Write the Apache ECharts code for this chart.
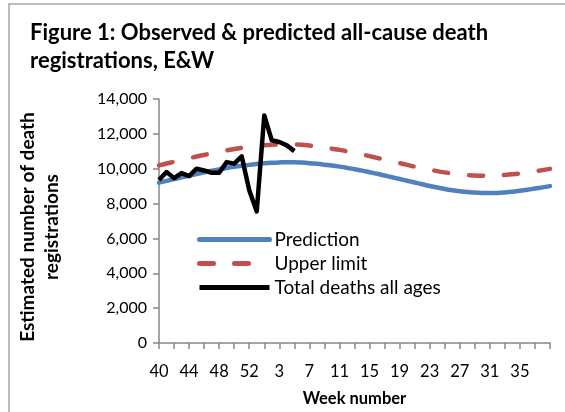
<!DOCTYPE html>
<html>
<head>
<meta charset="utf-8">
<script src="https://cdn.jsdelivr.net/npm/echarts@6/dist/echarts.min.js"></script>
<style>
html,body{margin:0;padding:0;background:#fff;}
#c{width:565px;height:412px;}
</style>
</head>
<body>
<div id="c"></div>
<script>
const weeks = ['40','41','42','43','44','45','46','47','48','49','50','51','52','53',
  '1','2','3','4','5','6','7','8','9','10','11','12','13','14','15','16','17','18','19','20',
  '21','22','23','24','25','26','27','28','29','30','31','32','33','34','35','36','37','38','39'];
const prediction = [9200,9300,9400,9500,9600,9700,9790,9880,9960,10040,10110,10170,10220,10270,
  10310,10340,10360,10370,10370,10350,10320,10280,10230,10180,10120,10050,9970,9890,9800,9710,
  9610,9510,9410,9310,9210,9110,9010,8920,8840,8770,8710,8660,8630,8610,8600,8610,8640,8680,
  8730,8790,8860,8930,9000];
const upperLimit = [10190,10300,10400,10500,10600,10700,10790,10880,10970,11050,11130,11200,11260,11310,
  11350,11380,11400,11400,11390,11370,11330,11280,11220,11150,11080,11000,10910,10820,10720,10620,
  10520,10420,10320,10220,10120,10030,9940,9860,9790,9730,9680,9640,9610,9600,9600,9610,9640,9680,
  9730,9790,9850,9920,9990];
const totalDeaths = [9350,9810,9460,9750,9580,10000,9900,9770,9770,10380,10290,10710,8760,7550,
  13060,11630,11530,11340,11010];
const yTicks = [0,2000,4000,6000,8000,10000,12000,14000];

const chart = echarts.init(document.getElementById('c'));
const axisGray = '#868686';
const font = 'Lato, "Open Sans", sans-serif';
chart.setOption({
  animation: false,
  backgroundColor: '#fff',
  title: {
    text: 'Figure 1: Observed & predicted all-cause death\nregistrations, E&W',
    left: 25, top: 14,
    textStyle: {fontFamily: font, fontSize: 22, fontWeight: 'bold', color: '#000', lineHeight: 28}
  },
  graphic: [
    {type: 'rect', shape: {x: 9, y: 4, width: 620, height: 500}, style: {fill: 'none', stroke: '#a6a6a6', lineWidth: 1.5}, silent: true},
    {type: 'text', x: 40, y: 227, rotation: Math.PI / 2,
     style: {text: 'Estimated number of death\nregistrations', align: 'center', verticalAlign: 'middle',
       font: 'bold 19px ' + font, fill: '#000', lineHeight: 24}}
  ],
  legend: {
    orient: 'vertical', left: 192, top: 225, itemWidth: 70, itemHeight: 14, itemGap: 5,
    itemStyle: {opacity: 0},
    lineStyle: {width: 5},
    textStyle: {fontFamily: font, fontSize: 19, color: '#000'},
    data: ['Prediction', 'Upper limit', 'Total deaths all ages']
  },
  grid: {left: 159, right: 15, top: 99, bottom: 69},
  xAxis: {
    type: 'category', data: weeks, boundaryGap: false,
    name: 'Week number', nameLocation: 'middle', nameGap: 47,
    nameTextStyle: {fontFamily: font, fontSize: 16.5, fontWeight: 'bold', color: '#000'},
    axisLine: {lineStyle: {color: axisGray, width: 1.5}},
    axisTick: {interval: 1, length: 6, lineStyle: {color: axisGray, width: 1.5}},
    axisLabel: {interval: (i) => i % 4 === 0 && i < weeks.length - 1, margin: 20, fontFamily: font, fontSize: 16.5, color: '#000'},
    splitLine: {show: false}
  },
  yAxis: {
    type: 'value', min: 0, max: 14000, interval: 2000,
    axisLine: {show: true, lineStyle: {color: axisGray, width: 1.5}},
    axisTick: {show: true, length: 6, lineStyle: {color: axisGray, width: 1.5}},
    axisLabel: {margin: 12, fontFamily: font, fontSize: 16, color: '#000',
      formatter: v => yTicks.includes(v) ? v.toLocaleString('en-US') : ''},
    splitLine: {show: false}
  },
  series: [
    {name: 'Prediction', type: 'line', data: prediction, symbol: 'none', smooth: true,
     lineStyle: {color: '#4F81BD', width: 4.5, cap: 'round'}, itemStyle: {color: '#4F81BD'}},
    {name: 'Upper limit', type: 'line', data: upperLimit, symbol: 'none', smooth: true,
     lineStyle: {color: '#C0504D', width: 4.5, type: [14, 21], cap: 'round'}, itemStyle: {color: '#C0504D'}},
    {name: 'Total deaths all ages', type: 'line', data: totalDeaths, symbol: 'none',
     lineStyle: {color: '#000', width: 4.5, join: 'round'}, itemStyle: {color: '#000'}}
  ]
});
</script>
</body>
</html>
